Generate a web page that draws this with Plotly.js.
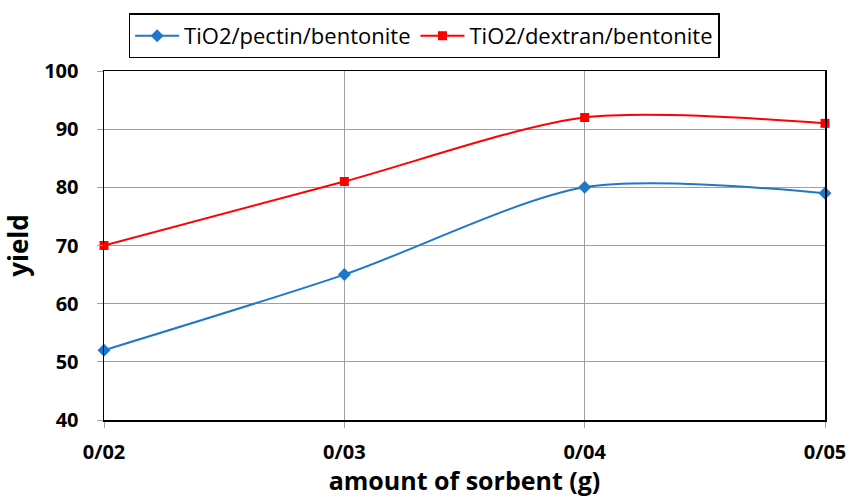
<!DOCTYPE html>
<html>
<head>
<meta charset="utf-8">
<script src="https://cdn.plot.ly/plotly-3.0.1.min.js"></script>
<style>body{margin:0;padding:0;background:#fff;}#chart{width:848px;height:497px;}</style>
</head>
<body>
<div id="chart"></div>
<script>
var categories = ["0/02", "0/03", "0/04", "0/05"];
var pectinValues = [52, 65, 80, 79];
var dextranValues = [70, 81, 92, 91];
var seriesNames = ["TiO2/pectin/bentonite", "TiO2/dextran/bentonite"];
var yTicks = [40, 50, 60, 70, 80, 90, 100];

var traces = [
  {
    x: categories, y: pectinValues, name: seriesNames[0],
    type: "scatter", mode: "lines+markers",
    line: {color: "#1f77c8", width: 2, shape: "spline", smoothing: 0.8},
    marker: {symbol: "diamond", size: 10, color: "#1f77c8"},
    cliponaxis: false
  },
  {
    x: categories, y: dextranValues, name: seriesNames[1],
    type: "scatter", mode: "lines+markers",
    line: {color: "#ff0000", width: 2, shape: "spline", smoothing: 0.8},
    marker: {symbol: "square", size: 9, color: "#ff0000"},
    cliponaxis: false
  }
];

var layout = {
  width: 848, height: 497,
  margin: {l: 104, r: 23, t: 71, b: 77},
  paper_bgcolor: "#fff", plot_bgcolor: "#fff",
  font: {family: "Open Sans, Liberation Sans, sans-serif", color: "#000"},
  showlegend: true,
  legend: {
    orientation: "h", x: 0.444, xanchor: "center", y: 1.165, yanchor: "top",
    bordercolor: "#000", borderwidth: 1.5, bgcolor: "#fff",
    font: {size: 22, family: "Open Sans, sans-serif"},
    itemwidth: 44, tracegroupgap: 0
  },
  xaxis: {
    type: "category", range: [0, 3],
    showgrid: true, gridcolor: "#a0a0a0", gridwidth: 1,
    showline: true, linecolor: "#000", linewidth: 1.5, mirror: true,
    ticks: "outside", ticklen: 6, tickcolor: "#a0a0a0",
    ticklabelstandoff: 7,
    tickfont: {size: 20, family: "Open Sans, sans-serif", weight: "bold"},
    title: {text: "<b>amount of sorbent (g)</b>", font: {size: 25}, standoff: 30}
  },
  yaxis: {
    range: [40, 100], tickvals: yTicks,
    showgrid: true, gridcolor: "#a0a0a0", gridwidth: 1,
    showline: true, linecolor: "#000", linewidth: 1.5, mirror: true,
    ticks: "outside", ticklen: 6, tickcolor: "#a0a0a0",
    ticklabelstandoff: 14,
    tickfont: {size: 20, family: "Open Sans, sans-serif", weight: "bold"},
    title: {text: "<b>yield</b>", font: {size: 26}, standoff: 8},
    zeroline: false
  }
};

Plotly.newPlot("chart", traces, layout, {displayModeBar: false, staticPlot: true});
</script>
</body>
</html>
